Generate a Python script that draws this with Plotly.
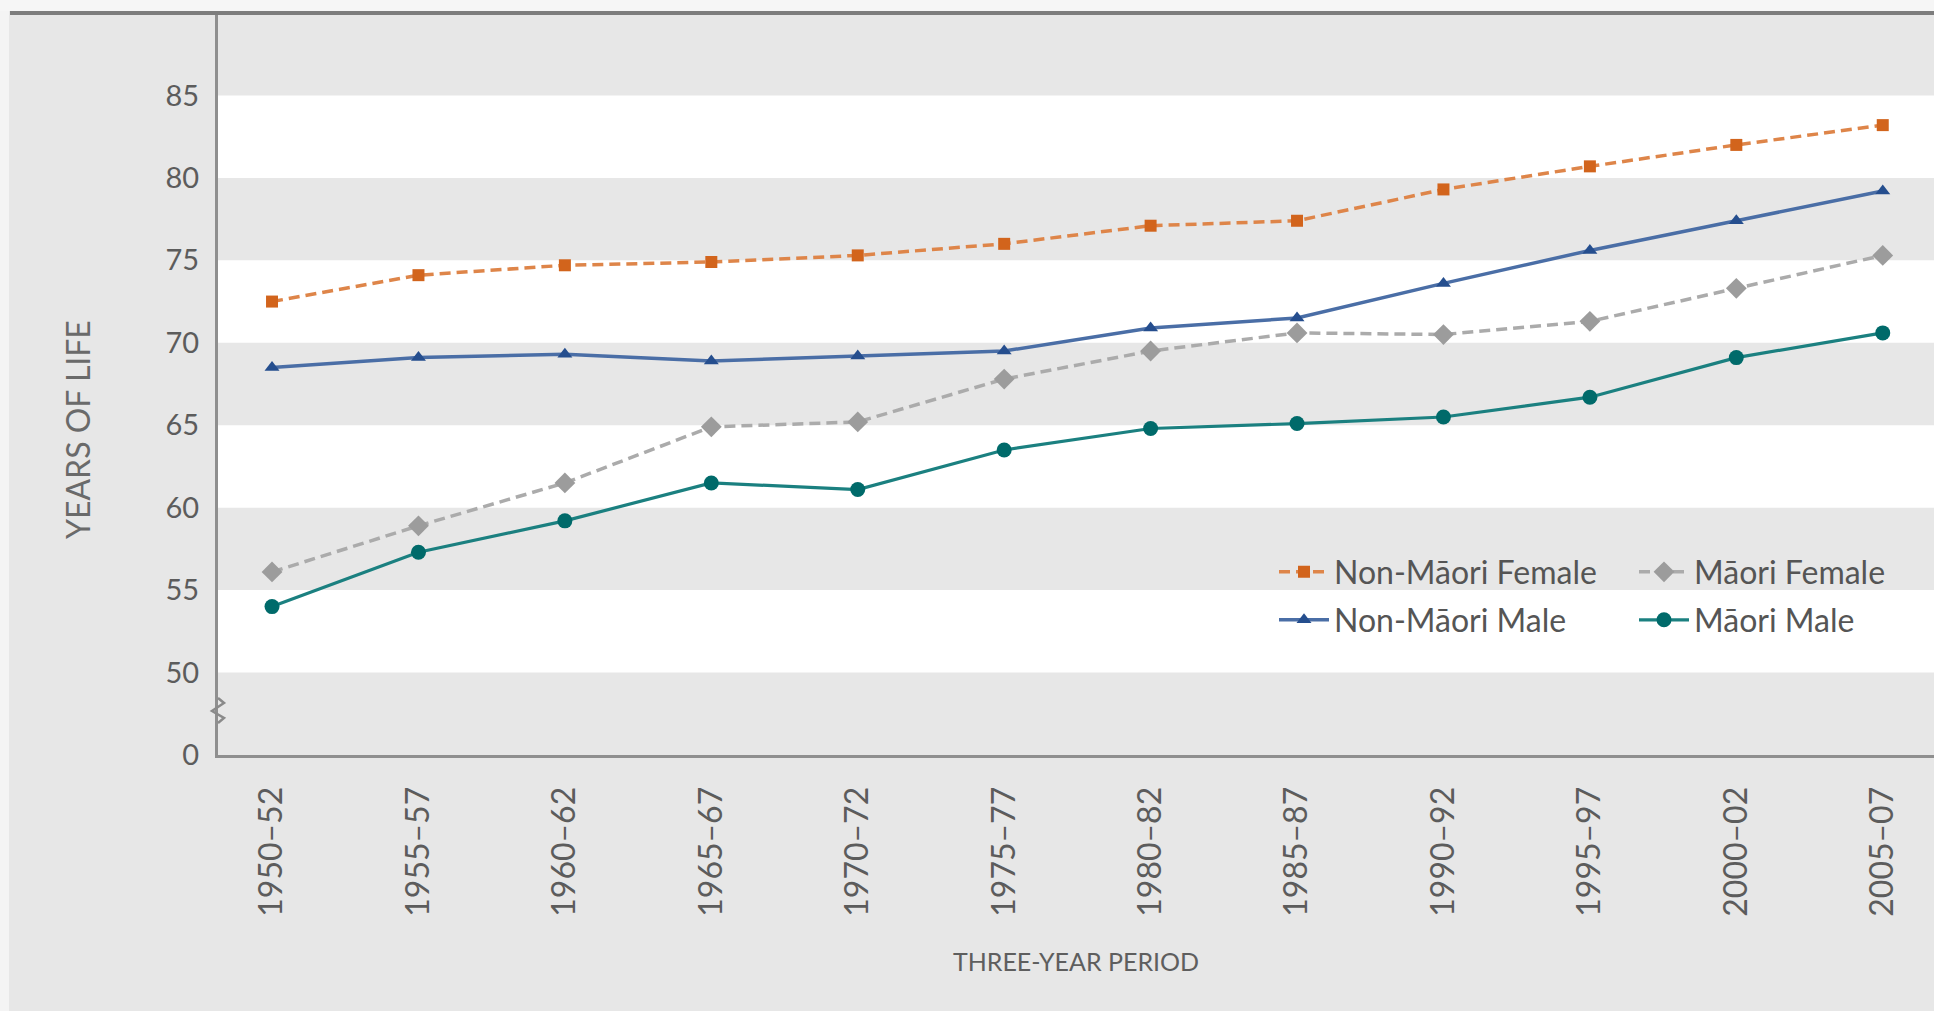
import plotly.graph_objects as go

periods = ["1950–52", "1955–57", "1960–62", "1965–67", "1970–72", "1975–77",
           "1980–82", "1985–87", "1990–92", "1995–97", "2000–02", "2005–07"]
non_maori_female = [72.5, 74.1, 74.7, 74.9, 75.3, 76.0, 77.1, 77.4, 79.3, 80.7, 82.0, 83.2]
non_maori_male = [68.5, 69.1, 69.3, 68.9, 69.2, 69.5, 70.9, 71.5, 73.6, 75.6, 77.4, 79.2]
maori_female = [56.1, 58.9, 61.5, 64.9, 65.2, 67.8, 69.5, 70.6, 70.5, 71.3, 73.3, 75.3]
maori_male = [54.0, 57.3, 59.2, 61.5, 61.1, 63.5, 64.8, 65.1, 65.5, 66.7, 69.1, 70.6]

y_tickvals = [45, 50, 55, 60, 65, 70, 75, 80, 85]
y_ticktext = ["0", "50", "55", "60", "65", "70", "75", "80", "85"]
gray_bands = [45, 55, 65, 75, 85]

W, H = 1934, 1011
L, R, T, B = 218, 0, 13, 256
PW, PH = W - L - R, H - T - B


def px2x(px):
    return (px - L) / PW


def px2y(py):
    return (H - B - py) / PH


FONT = "Lato"
fig = go.Figure()

series = [
    ("Non-Māori Female", non_maori_female, "square", 12, "#d2641c", "#de8549", "dash", 3.5, "legend"),
    ("Non-Māori Male", non_maori_male, "triangle-up", 13, "#254e8e", "#4a6ea6", "solid", 3.5, "legend2"),
    ("Māori Female", maori_female, "diamond", 16, "#9c9c9c", "#ababab", "dash", 3.5, "legend3"),
    ("Māori Male", maori_male, "circle", 15, "#006a6a", "#1b8080", "solid", 3.2, "legend4"),
]
for name, vals, sym, size, mcol, lcol, dash, lw, leg in series:
    fig.add_trace(go.Scatter(
        x=periods, y=vals, name=name, mode="lines+markers",
        line=dict(color=lcol, width=lw, dash="11px,6px" if dash == "dash" else "solid"),
        marker=dict(symbol=sym, size=size, color=mcol, line=dict(width=0)),
        legend=leg,
    ))

shapes = []
for lo in gray_bands:
    shapes.append(dict(type="rect", xref="paper", yref="y", x0=0, x1=1, y0=lo, y1=lo + 5,
                       fillcolor="#e7e7e7", line=dict(width=0), layer="below"))
# light outer strips
shapes.append(dict(type="rect", xref="paper", yref="paper", x0=px2x(0), x1=px2x(9),
                   y0=px2y(H), y1=px2y(0), fillcolor="#f4f4f4", line=dict(width=0), layer="below"))
shapes.append(dict(type="rect", xref="paper", yref="paper", x0=px2x(0), x1=px2x(W),
                   y0=px2y(11), y1=px2y(0), fillcolor="#f6f6f6", line=dict(width=0), layer="below"))
# top border line
shapes.append(dict(type="line", xref="paper", yref="paper", x0=px2x(10), x1=px2x(W),
                   y0=px2y(13), y1=px2y(13), line=dict(color="#7d7d7d", width=4)))
# axis break squiggle
zz = [(218, 698), (224, 703), (212, 711), (224, 718), (218, 723)]
path = "M " + " L ".join(f"{px2x(a):.5f},{px2y(b):.5f}" for a, b in zz)
shapes.append(dict(type="path", xref="paper", yref="paper", path=path,
                   line=dict(color="#8a8a8a", width=2.5)))

leg_common = dict(bgcolor="rgba(0,0,0,0)", font=dict(family=FONT, size=32, color="#555555"),
                  itemwidth=50, xanchor="left", yanchor="middle", borderwidth=0)
layout_legends = {
    "legend": dict(x=px2x(1274), y=px2y(572), **leg_common),
    "legend2": dict(x=px2x(1274), y=px2y(620), **leg_common),
    "legend3": dict(x=px2x(1634), y=px2y(572), **leg_common),
    "legend4": dict(x=px2x(1634), y=px2y(620), **leg_common),
}

fig.update_layout(
    width=W, height=H,
    margin=dict(l=L, r=R, t=T, b=B, pad=0),
    paper_bgcolor="#e7e7e7",
    plot_bgcolor="#ffffff",
    font=dict(family=FONT, color="#606060"),
    shapes=shapes,
    showlegend=True,
    annotations=[dict(text="YEARS OF LIFE", textangle=-90, xref="paper", yref="paper",
                      x=px2x(77), y=px2y(430), xanchor="center", yanchor="middle",
                      showarrow=False, font=dict(family=FONT, size=32, color="#6a6a6a"))],
    **layout_legends,
)
fig.update_xaxes(
    type="category", range=[-0.369, 11.35], showgrid=False, zeroline=False,
    showline=True, linecolor="#8f8f8f", linewidth=3, ticks="",
    tickangle=-90, tickfont=dict(family=FONT, size=32, color="#5c5c5c"),
    ticklabelstandoff=16,
    title=dict(text="THREE-YEAR PERIOD", font=dict(family=FONT, size=25, color="#5e5e5e"), standoff=38),
)
fig.update_yaxes(
    range=[45, 90], tickvals=y_tickvals, ticktext=y_ticktext, showgrid=False, zeroline=False,
    showline=True, linecolor="#8f8f8f", linewidth=3, ticks="",
    tickfont=dict(family=FONT, size=29, color="#5c5c5c"),
    ticklabelstandoff=10,
)

fig.write_html("out.html", config={"displayModeBar": False},
               post_script="document.body.style.margin='0';document.body.style.overflow='hidden';")
